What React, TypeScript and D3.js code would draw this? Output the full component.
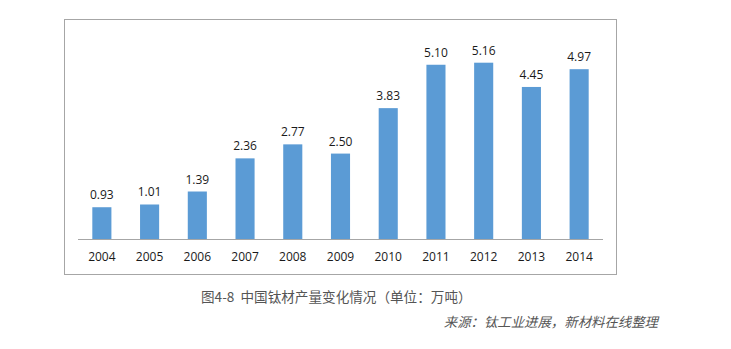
import React from "react";
import * as d3 from "d3";

const years = ["2004","2005","2006","2007","2008","2009","2010","2011","2012","2013","2014"];
const values = [0.93, 1.01, 1.39, 2.36, 2.77, 2.50, 3.83, 5.10, 5.16, 4.45, 4.97];
const title = "图4-8  中国钛材产量变化情况（单位：万吨）";
const source = "来源：钛工业进展，新材料在线整理";

export default function App() {
  const W = 731, H = 349;
  const x = d3.scaleBand<string>().domain(years).range([78, 603]).paddingInner(0.6).paddingOuter(0.3);
  const y = d3.scaleLinear().domain([0, 6]).range([239, 34]);
  const font = "'Open Sans', 'Liberation Sans', sans-serif";
  const cjk = "'Noto Sans CJK SC', sans-serif";
  return (
    <svg width={W} height={H} style={{ position: "absolute", left: 0, top: 0, background: "#fff" }}>
      <rect x={64.5} y={19.5} width={552} height={255} fill="#fff" stroke="#a6a6a6" strokeWidth={1} />
      {years.map((yr, i) => (
        <g key={yr}>
          <rect x={x(yr)!} y={y(values[i])} width={x.bandwidth()} height={y(0) - y(values[i])} fill="#5B9BD5" />
          <text x={x(yr)! + x.bandwidth() / 2} y={y(values[i]) - 8} textAnchor="middle" fontFamily={font} fontSize={12} fill="#1a1a1a">{values[i].toFixed(2)}</text>
          <text x={x(yr)! + x.bandwidth() / 2} y={261} textAnchor="middle" fontFamily={font} fontSize={12} fill="#1a1a1a">{yr}</text>
        </g>
      ))}
      <line x1={78} x2={603} y1={239.5} y2={239.5} stroke="#a6a6a6" strokeWidth={1} />
      <text x={201} y={302} fontFamily={cjk} fontSize={13.6} fill="#555" style={{ whiteSpace: "pre" }}>{title}</text>
      <text x={658} y={327} textAnchor="end" fontFamily={cjk} fontSize={13.4} fontStyle="italic" fill="#555">{source}</text>
    </svg>
  );
}
